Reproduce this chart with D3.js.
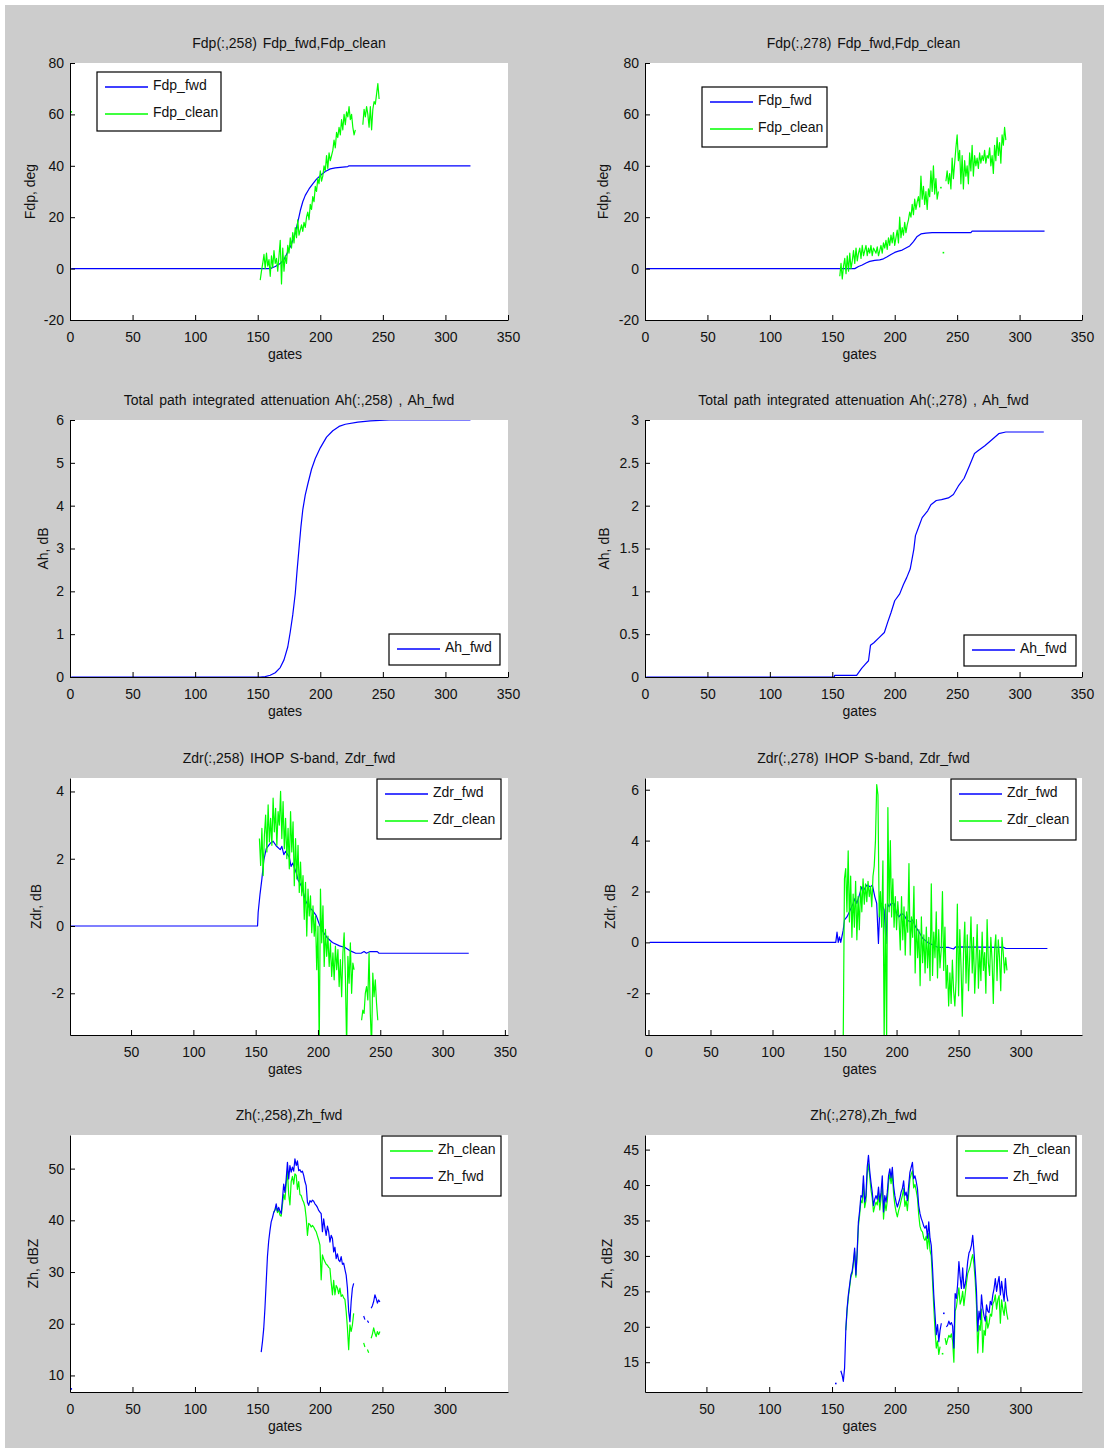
<!DOCTYPE html>
<html>
<head>
<meta charset="utf-8">
<script src="https://cdn.jsdelivr.net/npm/d3@7"></script>
<style>
  html, body { margin: 0; padding: 0; background: #ffffff; }
  svg { display: block; }
  text { font-family: "Liberation Sans", Arial, Helvetica, sans-serif; font-size: 14px; fill: #111; }
  .title { word-spacing: 2px; }
</style>
</head>
<body>
<svg id="fig" width="1104" height="1448"></svg>
<script>
// ---------------------------------------------------------------------------
// Data: ray 258 (left column) and ray 278 (right column), values per range gate.
// Smooth forward-model curves are given as [gate, value] pairs; noisy measured
// fields are given one value per gate from a start gate (null = no data).
// ---------------------------------------------------------------------------

// Axis ticks
const xTicksFull = [0, 50, 100, 150, 200, 250, 300, 350];
const xTicksZdr258 = [50, 100, 150, 200, 250, 300, 350];
const xTicksZdr278 = [0, 50, 100, 150, 200, 250, 300];
const xTicksZh258 = [0, 50, 100, 150, 200, 250, 300];
const xTicksZh278 = [50, 100, 150, 200, 250, 300];
const fdpTicks = [-20, 0, 20, 40, 60, 80];
const ah258Ticks = [0, 1, 2, 3, 4, 5, 6];
const ah278Ticks = [0, 0.5, 1, 1.5, 2, 2.5, 3];
const zdr258Ticks = [-2, 0, 2, 4];
const zdr278Ticks = [-2, 0, 2, 4, 6];
const zh258Ticks = [10, 20, 30, 40, 50];
const zh278Ticks = [15, 20, 25, 30, 35, 40, 45];

// Axis limits
const fdpRange = [-20, 80];
const ah258Range = [0, 6];
const ah278Range = [0, 3];
const zdr258Range = [-3.24, 4.4];
const zdr278Range = [-3.64, 6.46];
const zh258Range = [6.8, 56.5];
const zh278Range = [10.8, 47.06];
const gateRangeFull = [0, 350];
const gateRangeZdr258 = [1, 352.5];
const gateRangeZdr278 = [-2.8, 349.5];
const gateRangeZh258 = [0, 350.5];
const gateRangeZh278 = [1.1, 349];

// Differential phase, ray 258
const fdpFwd258 = [[1,0],[160,0],[164,0.8],[168,2],[171,3.5],[174,6.5],[177,9.5],[180,14],[182,18],[184,22.5],[186,26],[188,28.5],[191,31],[194,33],[197,34.8],[200,36.2],[204,37.8],[208,38.8],[212,39.2],[218,39.5],[222,39.7],[223,40],[320,40]];
const fdpClean258Start = 152;
const fdpClean258 = [-4.5,-1,2,5.5,0,6,1,3.5,-3,5,0.5,7,2,4,-1,5,11,-6,8,-1,5,2,9,6,12,8,14,10,16,12,19,13,15,17,14.5,18,16,20,22,19,25,23,28,26,32,30,35,33,38,34,36,40,38,44,39,45,42,44,46,50,47,53,51,55,52,58,54,60,56,61,59,63,58,60,55,52,54,null,null,null,null,null,56,62,59,63,60,55,63,54,62,65,64,68,72,66];
const fdpStray258Start = 1;
const fdpStray258 = [61];

// Differential phase, ray 278
const fdpFwd278 = [[1,0],[168,0],[171,0.8],[174,1.4],[177,2.2],[180,2.8],[184,3.2],[188,3.4],[191,3.8],[194,4.6],[197,5.5],[200,6.3],[203,6.8],[206,7.2],[209,8],[212,8.8],[215,10.5],[218,12.5],[221,13.5],[225,13.8],[230,14],[261,14],[262,14.6],[320,14.6]];
const fdpClean278Start = 156;
const fdpClean278 = [-3,2,-4,1,4,-2,5,-1,6,0,3,7,2,8,3,6,8,4,9,5,7,9,5,8,6,9,5,8,7,6,8.5,5,7,9,6,10,8,11,7.5,12,9,13,10,14,9,12,15,10,20,12,16,13,18,14,17,19,22,20,25,21,27,23,26,28,24,36,27,32,25,30,23,31,28,38,30,40,29,35,27,30,null,31.5,null,6.2,null,34,38,33,37,31,43,35,41,47,52,42,46,33,44,31,42,36,40,33,45,38,48,36,44,40,43,39,45,41,44,42,46,41,44,43,47,40,44,37,48,42,51,44,49,41,52,48,55,50];

// Path-integrated attenuation
const ahFwd258 = [[1,0],[152,0],[156,0.01],[160,0.04],[164,0.1],[168,0.22],[171,0.4],[174,0.7],[176,1.05],[178,1.45],[180,1.95],[181.5,2.5],[183,3.0],[184.5,3.5],[186,3.9],[188,4.25],[190,4.5],[193,4.85],[196,5.1],[200,5.35],[205,5.6],[210,5.75],[215,5.85],[220,5.9],[230,5.95],[240,5.98],[255,6.0],[320,6.0]];
const ahFwd278 = [[1,0],[151.6,0],[152,0.02],[169.5,0.02],[173.5,0.1],[176.5,0.15],[179,0.19],[180.6,0.37],[183.3,0.4],[187.5,0.46],[191.7,0.52],[194.4,0.64],[197,0.75],[200,0.89],[204,0.97],[207,1.08],[209.6,1.16],[212.4,1.26],[215.3,1.49],[216.6,1.65],[219.4,1.76],[222,1.86],[226.4,1.94],[229,2.01],[233.3,2.06],[237.5,2.07],[243,2.09],[247,2.13],[251,2.23],[255.6,2.32],[259.7,2.46],[263.9,2.61],[266.7,2.64],[272.2,2.7],[277.8,2.77],[283.3,2.84],[289,2.86],[319.4,2.86]];

// Differential reflectivity, ray 258
const zdrFwd258 = [[1,0],[151.5,0],[152,0.4],[153.5,0.95],[155,1.4],[156.5,1.95],[158.5,2.3],[162,2.47],[164,2.52],[166.8,2.37],[169.7,2.27],[171,2.37],[172.6,2.12],[174,2.22],[177,2.05],[178.4,1.77],[179.8,1.87],[182.7,1.57],[184,1.37],[187,1.17],[190,0.76],[192.8,0.56],[195.7,0.46],[198.6,0.31],[201.5,0.01],[204.4,-0.19],[207.2,-0.34],[211.6,-0.49],[217.3,-0.59],[221.7,-0.64],[226,-0.74],[230.3,-0.81],[234.6,-0.81],[237,-0.76],[238.9,-0.81],[241.9,-0.76],[247.6,-0.76],[249,-0.81],[321,-0.81]];
const zdrClean258Start = 153;
const zdrClean258 = [2.6,1.8,2.9,1.5,2.7,3.3,2.2,3.6,2.5,3.2,2.4,3.8,2.8,3.5,2.4,3.4,3.0,4.0,2.6,3.7,2.3,3.2,2.0,2.9,1.7,3.4,2.2,3.1,1.2,2.6,1.4,2.4,1.0,1.9,0.9,1.5,0.2,1.3,-0.3,1.1,0.3,0.9,-0.2,0.6,-0.3,0.3,-1.3,0.0,-3.6,1.1,-0.5,0.6,-1.2,-0.1,-0.9,-0.3,-1.2,-0.5,-1.5,-0.8,-1.6,-0.6,-1.3,-0.7,-1.8,-1.0,-2.1,-0.8,-0.2,-1.5,-3.6,-0.9,-1.7,-0.5,-2.0,-1.1,-1.3,null,null,null,null,null,-2.8,-2.5,-2.6,-2.0,-1.8,-2.2,-0.8,-2.6,-3.6,-1.4,-2.1,-1.6,-2.3,-2.8];

// Differential reflectivity, ray 278
const zdrFwd278 = [[1,0],[151,0],[152,0.4],[153,0],[154,0.22],[155,0],[157,0.48],[158,0.88],[160,1.0],[162,1.2],[165,1.53],[166.5,1.73],[168,1.53],[170,1.86],[172,2.18],[173.5,2.05],[176,2.25],[179,2.18],[180.5,2.25],[182.5,1.79],[184,1.53],[185.4,-0.04],[186.5,1.4],[188,1.53],[190,1.27],[191.5,-0.04],[192.7,1.53],[194,1.4],[195.7,1.53],[198,1.53],[200,1.14],[202,1.0],[204,1.14],[206,1.07],[208.3,0.88],[211,0.81],[213,0.88],[215.3,0.61],[218,0.42],[221,0.16],[225,0],[229.3,-0.1],[233.5,-0.2],[242,-0.2],[246,-0.26],[247.5,-0.18],[286.6,-0.2],[288,-0.24],[321.6,-0.24]];
const zdrClean278Start = 157;
const zdrClean278 = [-3.9,2.5,2.9,1.2,3.6,0.8,2.6,0.2,1.9,0.6,2.4,0.1,1.8,0.5,2.2,1.2,2.5,1.5,2.3,1.6,2.4,1.8,2.2,1.4,2.6,3.0,4.0,6.2,5.8,1.0,2.0,0.6,3.2,-3.9,1.5,-3.9,5.3,1.2,4.0,1.0,2.5,0.6,1.8,0.5,1.6,0.9,-0.3,1.8,0.1,1.4,-0.5,1.2,0.4,3.1,-0.5,1.0,0.2,2.2,-1.2,0.9,-0.6,0.5,-1.7,1.0,-0.8,0.3,-1.2,0.6,-1.0,0.2,-1.5,2.3,-1.3,0.4,-0.6,1.2,-1.4,0.5,-1.0,-0.3,2.0,-1.1,0.6,-1.8,-0.9,-2.5,-1.2,-2.4,-0.7,-1.9,-2.5,-1.5,1.5,-2.1,0.5,-1.0,-2.9,-0.4,0.8,-1.6,0.3,-1.9,-0.5,1.0,-1.2,0.2,-2.0,-0.8,0.7,-1.8,-0.3,-1.5,0.4,-1.1,-0.4,-2.0,0.9,-0.8,-1.3,0.2,-0.7,-2.4,-0.3,0.3,-1.5,0.1,-0.6,-1.9,0.2,-0.4,-1.2,-0.6,-1.1];

// Reflectivity, ray 258
const zhClean258Start = 163;
const zhClean258 = [41.5,42,42.5,41.5,42,41,40.8,43,45,44,47,49.5,45,43,47.5,48.5,47,49,48.7,46,47.5,45,44.8,44,43.5,42.6,40.5,37.1,39.4,39.2,38.7,39,38.7,38.2,37.8,37,36.2,35.2,28.5,33.3,32.5,32,31.5,31.3,30.9,30.7,28,25.6,28.4,25.6,27.4,26.9,25.8,26.9,25.3,25.6,25,24.7,22.4,19.2,15,19.8,18.5,19.8,22,null,null,null,null,null,null,null,16.3,15.5,null,15,14.4,null,17.2,18,19.2,18.2,17.5,18.5,17.9,18.5];
const zhFwd258Start = 1;
const zhFwd258Head = [7.4];
const zhFwd258BodyStart = 153;
const zhFwd258 = [14.5,16.5,19,23,28,33,36,38,39.7,40.5,41.5,42,43.2,41.8,42.5,41.8,41.3,44,47,45.4,48,51.2,48,50.6,49.3,50.3,49.5,51.9,50.6,51.5,49.6,49.8,49.3,49.5,48.7,47.5,46.7,43.5,42.9,43.8,43.5,43.9,43.7,43.2,42.9,42.5,41.9,41.6,41.3,37.8,40.3,38.5,37.1,38.9,37.8,35.8,37.1,36.5,33.9,34.8,32.6,33.5,32.3,32,33,31.5,31.7,30.5,29.4,26.9,22.4,20.4,24.3,26.9,27.8,null,null,null,null,null,null,null,21.5,20.8,null,20.6,20.2,null,23,23.5,24.3,25.6,24.9,24,24.6,24.2];

// Reflectivity, ray 278
const zhClean278Start = 161;
const zhClean278 = [19.5,22.3,24.2,25.6,27,27.5,28.9,30.6,27,30.2,34.2,35.8,37.8,37.5,40.2,36.8,37.8,41.5,43,41.2,39.3,38.2,36.2,37,37.6,37.2,38.8,36.5,38,40.2,35.2,37.6,36.4,37.8,40.3,41.6,40.2,41.6,38.8,37.2,36.2,35.5,36.4,37,37.8,38.5,39.5,37,37.8,36.4,38.6,40.8,41.5,42,39.6,40.1,39.2,38.2,35.8,34.2,33.6,33.4,32.5,32.2,32.8,31,33.2,30.8,30,26.5,22.8,19.5,17,18,16.1,17.2,null,16.2,null,18.4,17.5,18.2,18.8,18.5,19,18,15,22.2,22.8,24.2,25.5,23.2,23.8,25,23,24.6,26.2,27.5,28,28.6,29.5,30.2,28.8,26.5,23,16.3,20.2,19.5,22.5,16.4,19.5,18.8,21.5,19.8,20.5,21.8,21.5,23.2,23.6,24.5,22.5,23.8,24.4,20.5,23.8,22.5,21.6,23.5,22,21];
const zhFwd278Start = 153;
const zhFwd278 = [12,null,null,null,13.8,13.2,12.3,14.2,19.8,22.6,24.5,25.9,27.3,27.8,29.2,31.1,27.3,30.6,34.8,36.4,38.5,38.3,41.3,37.6,38.5,42.5,44.2,42,40.4,39,37.1,38,38.5,38,39.7,37.6,39,41.3,36.2,38.5,37.6,39,41.3,42.3,41,42.5,39.9,38.5,37.6,36.9,37.5,38.1,39,39.5,40.6,38.5,39,37.8,39.9,41.8,42.5,43.2,40.9,41.3,40.5,39.5,37.1,36,35.3,34.8,34.2,33.9,34.3,32.5,34.8,32.5,31.5,28.3,24.5,21.7,18.9,20.3,17.9,19.5,20.5,null,21.9,null,20,20.2,20.8,20.3,20.6,20.1,17,24.7,24,26,29.2,27,25.4,28.3,25.4,26,27.3,29.2,30.4,30.8,31.5,32.9,30.6,28,25,19.4,22.2,21,24.5,22.6,21.5,20.8,23.1,22.2,22,23.6,23.1,24.5,25.4,26.8,25,26.2,27.1,24.5,26.4,25,23.6,26.8,24.5,23.6];

// ---------------------------------------------------------------------------
// Drawing
// ---------------------------------------------------------------------------
const BLUE = "#0000ff";
const GREEN = "#00ff00";

const perGate = (start, values) => values.map((v, i) => ({ g: start + i, v }));
const pairs = list => list.map(([g, v]) => ({ g, v }));

const colLeft = [70, 645];
const colWidth = [438, 437];
const rowTop = [63, 420, 778, 1135];
const axH = 257;

const panels = [
  { col: 0, row: 0, title: "Fdp(:,258) Fdp_fwd,Fdp_clean", ylabel: "Fdp, deg", ylabGap: 40,
    xDomain: gateRangeFull, xTicks: xTicksFull, yDomain: fdpRange, yTicks: fdpTicks,
    series: [
      { name: "Fdp_fwd", data: pairs(fdpFwd258), color: BLUE },
      { name: "Fdp_clean", data: perGate(fdpClean258Start, fdpClean258), color: GREEN },
      { data: perGate(fdpStray258Start, fdpStray258), color: GREEN }
    ],
    legend: { x: 97, y: 72, w: 124, h: 59 } },
  { col: 1, row: 0, title: "Fdp(:,278) Fdp_fwd,Fdp_clean", ylabel: "Fdp, deg", ylabGap: 42,
    xDomain: gateRangeFull, xTicks: xTicksFull, yDomain: fdpRange, yTicks: fdpTicks,
    series: [
      { name: "Fdp_fwd", data: pairs(fdpFwd278), color: BLUE },
      { name: "Fdp_clean", data: perGate(fdpClean278Start, fdpClean278), color: GREEN }
    ],
    legend: { x: 702, y: 87, w: 125, h: 60 } },
  { col: 0, row: 1, title: "Total path integrated attenuation Ah(:,258) , Ah_fwd", ylabel: "Ah, dB", ylabGap: 27,
    xDomain: gateRangeFull, xTicks: xTicksFull, yDomain: ah258Range, yTicks: ah258Ticks,
    series: [ { name: "Ah_fwd", data: pairs(ahFwd258), color: BLUE } ],
    legend: { x: 389, y: 634, w: 111, h: 31 } },
  { col: 1, row: 1, title: "Total path integrated attenuation Ah(:,278) , Ah_fwd", ylabel: "Ah, dB", ylabGap: 41,
    xDomain: gateRangeFull, xTicks: xTicksFull, yDomain: ah278Range, yTicks: ah278Ticks,
    series: [ { name: "Ah_fwd", data: pairs(ahFwd278), color: BLUE } ],
    legend: { x: 964, y: 635, w: 112, h: 31 } },
  { col: 0, row: 2, title: "Zdr(:,258) IHOP S-band, Zdr_fwd", ylabel: "Zdr, dB", ylabGap: 34,
    xDomain: gateRangeZdr258, xTicks: xTicksZdr258, yDomain: zdr258Range, yTicks: zdr258Ticks,
    series: [
      { name: "Zdr_fwd", data: pairs(zdrFwd258), color: BLUE },
      { name: "Zdr_clean", data: perGate(zdrClean258Start, zdrClean258), color: GREEN }
    ],
    legend: { x: 377, y: 779, w: 124, h: 60 } },
  { col: 1, row: 2, title: "Zdr(:,278) IHOP S-band, Zdr_fwd", ylabel: "Zdr, dB", ylabGap: 35,
    xDomain: gateRangeZdr278, xTicks: xTicksZdr278, yDomain: zdr278Range, yTicks: zdr278Ticks,
    series: [
      { name: "Zdr_fwd", data: pairs(zdrFwd278), color: BLUE },
      { name: "Zdr_clean", data: perGate(zdrClean278Start, zdrClean278), color: GREEN }
    ],
    legend: { x: 951, y: 779, w: 125, h: 61 } },
  { col: 0, row: 3, title: "Zh(:,258),Zh_fwd", ylabel: "Zh, dBZ", ylabGap: 37,
    xDomain: gateRangeZh258, xTicks: xTicksZh258, yDomain: zh258Range, yTicks: zh258Ticks,
    series: [
      { name: "Zh_clean", data: perGate(zhClean258Start, zhClean258), color: GREEN },
      { name: "Zh_fwd", data: perGate(zhFwd258BodyStart, zhFwd258), color: BLUE },
      { data: perGate(zhFwd258Start, zhFwd258Head), color: BLUE }
    ],
    legend: { x: 382, y: 1136, w: 119, h: 60 } },
  { col: 1, row: 3, title: "Zh(:,278),Zh_fwd", ylabel: "Zh, dBZ", ylabGap: 38,
    xDomain: gateRangeZh278, xTicks: xTicksZh278, yDomain: zh278Range, yTicks: zh278Ticks,
    series: [
      { name: "Zh_clean", data: perGate(zhClean278Start, zhClean278), color: GREEN },
      { name: "Zh_fwd", data: perGate(zhFwd278Start, zhFwd278), color: BLUE }
    ],
    legend: { x: 957, y: 1136, w: 119, h: 60 } }
];

const svg = d3.select("#fig");

// figure background
svg.append("rect").attr("x", 5).attr("y", 5).attr("width", 1099).attr("height", 1443).attr("fill", "#cccccc");

// plain hyphen-minus tick labels
const fmt = d => String(d);

panels.forEach((p, idx) => {
  const x0 = colLeft[p.col], w = colWidth[p.col], y0 = rowTop[p.row], h = axH;
  const x = d3.scaleLinear().domain(p.xDomain).range([x0, x0 + w]);
  const y = d3.scaleLinear().domain(p.yDomain).range([y0 + h, y0]);
  const g = svg.append("g");

  // plot area
  g.append("rect").attr("x", x0).attr("y", y0).attr("width", w).attr("height", h).attr("fill", "#ffffff");

  const clipId = "clip" + idx;
  svg.append("clipPath").attr("id", clipId)
    .append("rect").attr("x", x0).attr("y", y0).attr("width", w).attr("height", h);

  // data lines
  const plot = g.append("g").attr("clip-path", `url(#${clipId})`);
  const line = d3.line().defined(d => d.v !== null).x(d => x(d.g)).y(d => y(d.v));
  p.series.forEach(s => {
    plot.append("path").datum(s.data)
      .attr("d", line).attr("fill", "none")
      .attr("stroke", s.color).attr("stroke-width", 1.2).attr("stroke-linejoin", "round");
    // samples with no valid neighbour are shown as single dots
    const lone = s.data.filter((d, i) => d.v !== null &&
      (i === 0 || s.data[i - 1].v === null) &&
      (i === s.data.length - 1 || s.data[i + 1].v === null));
    plot.selectAll(null).data(lone).enter().append("rect")
      .attr("x", d => x(d.g) - 0.8).attr("y", d => y(d.v) - 0.8)
      .attr("width", 1.6).attr("height", 1.6).attr("fill", s.color);
  });

  // axes (ticks point inward)
  const xAxis = d3.axisBottom(x).tickValues(p.xTicks).tickFormat(fmt)
    .tickSizeInner(-5).tickSizeOuter(0).tickPadding(12);
  const yAxis = d3.axisLeft(y).tickValues(p.yTicks).tickFormat(fmt)
    .tickSizeInner(-5).tickSizeOuter(0).tickPadding(6);

  const gx = g.append("g").attr("transform", `translate(0,${y0 + h})`).call(xAxis);
  const gy = g.append("g").attr("transform", `translate(${x0},0)`).call(yAxis);
  [gx, gy].forEach(a => {
    a.attr("font-family", null).attr("font-size", null);
    a.selectAll("path,line").attr("stroke", "#000").attr("stroke-width", 1);
    a.selectAll("text").attr("fill", "#111");
  });

  // title and axis labels
  g.append("text").attr("class", "title").attr("x", x0 + w / 2).attr("y", y0 - 15)
    .attr("text-anchor", "middle").text(p.title);
  g.append("text").attr("x", x0 + w / 2 - 4).attr("y", y0 + h + 39)
    .attr("text-anchor", "middle").text("gates");
  g.append("text")
    .attr("transform", `translate(${x0 - p.ylabGap + 5},${y0 + h / 2}) rotate(-90)`)
    .attr("text-anchor", "middle").text(p.ylabel);

  // legend
  const named = p.series.filter(s => s.name);
  const L = p.legend;
  const lg = g.append("g");
  lg.append("rect").attr("x", L.x).attr("y", L.y).attr("width", L.w).attr("height", L.h)
    .attr("fill", "#ffffff").attr("stroke", "#000").attr("stroke-width", 1.2);
  named.forEach((s, i) => {
    const ly = Math.round(L.y + 15 + i * 26.5);
    lg.append("line").attr("x1", L.x + 8).attr("x2", L.x + 51).attr("y1", ly).attr("y2", ly)
      .attr("stroke", s.color).attr("stroke-width", 1.6);
    lg.append("text").attr("x", L.x + 56).attr("y", ly + 3).text(s.name);
  });
});
</script>
</body>
</html>
